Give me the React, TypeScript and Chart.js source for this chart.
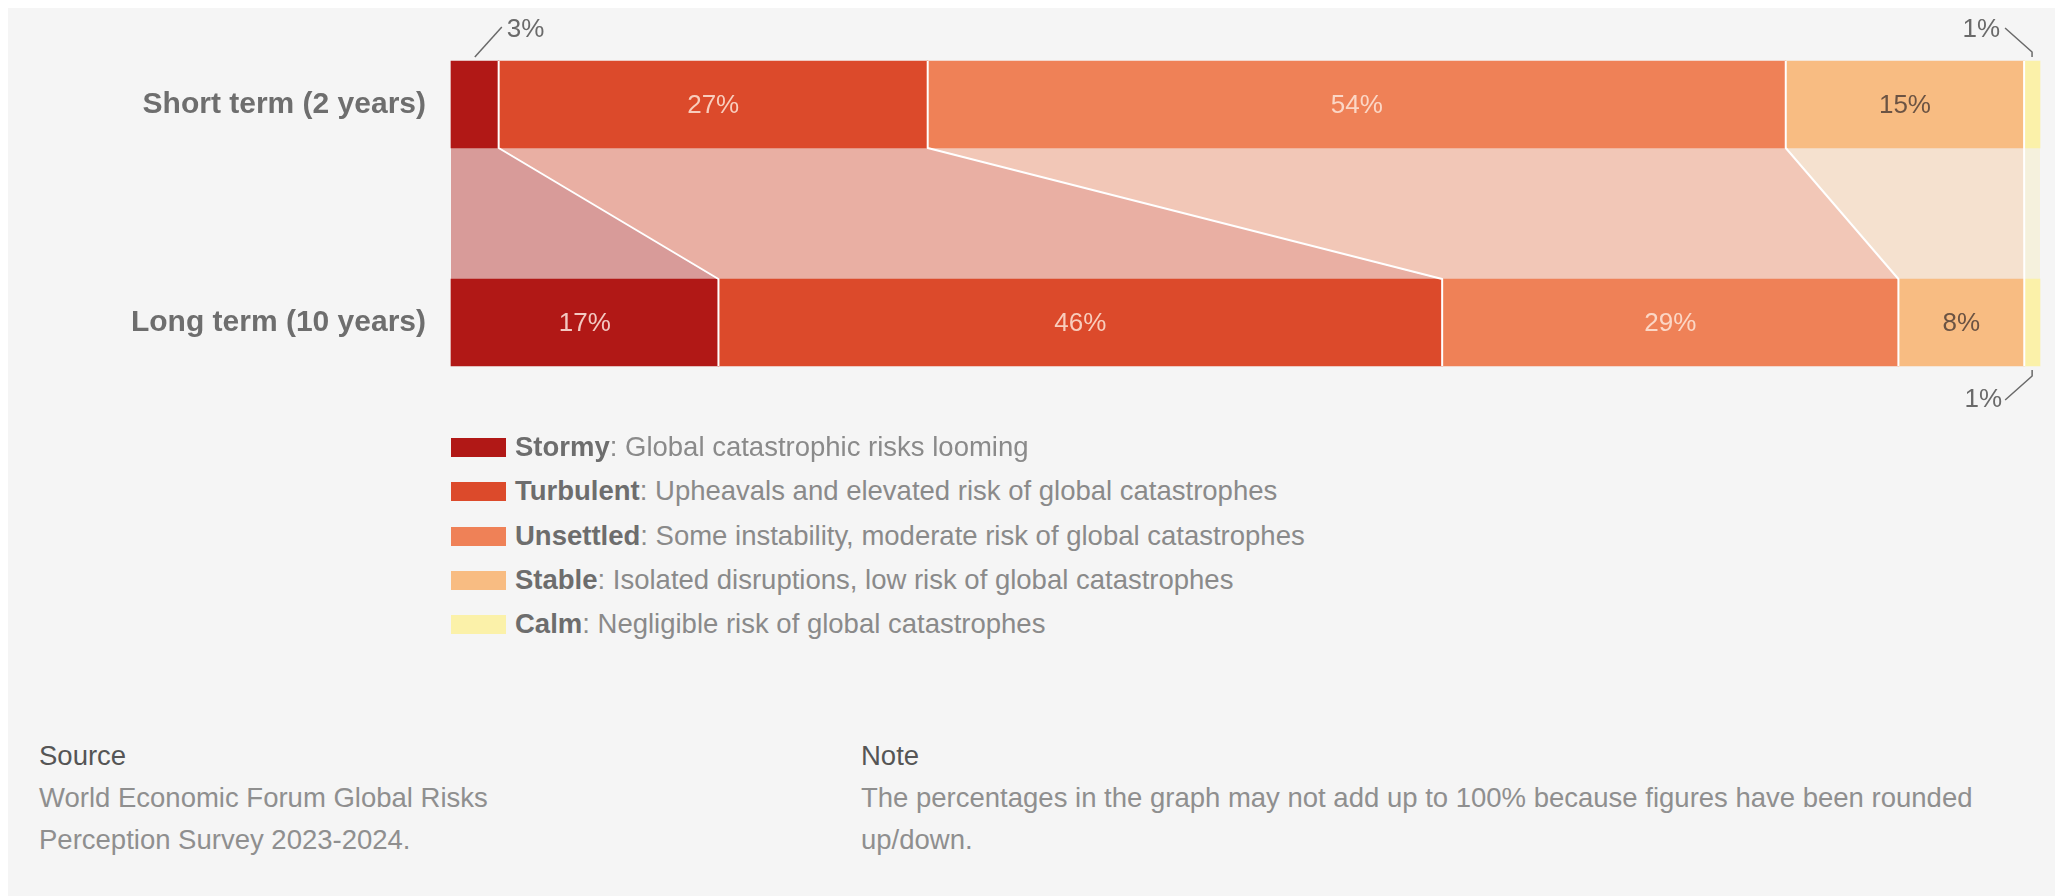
import React, { useEffect, useRef } from "react";
import { Chart, registerables } from "chart.js";

Chart.register(...registerables);

// ---- data ----
const categories = ["Short term (2 years)", "Long term (10 years)"];
const seriesNames = ["Stormy", "Turbulent", "Unsettled", "Stable", "Calm"];
const seriesDescriptions = [
  "Global catastrophic risks looming",
  "Upheavals and elevated risk of global catastrophes",
  "Some instability, moderate risk of global catastrophes",
  "Isolated disruptions, low risk of global catastrophes",
  "Negligible risk of global catastrophes",
];
const stormy = [3, 17];
const turbulent = [27, 46];
const unsettled = [54, 29];
const stable = [15, 8];
const calm = [1, 1];
const seriesValues = [stormy, turbulent, unsettled, stable, calm];

// ---- styles ----
const barColors = ["#b11816", "#dc4a2b", "#ef8157", "#f8bc82", "#fbf1a9"];
const flowColors = ["#d89b99", "#e9afa3", "#f2c7b7", "#f5e1cf", "#f5f1dd"];
const labelColors = ["#f3c9c2", "#f8cdbd", "#fbd7c6", "#6b5343", "#6b5343"];
const FONT = '"Liberation Sans", Arial, Helvetica, sans-serif';

// small values shown outside the bar with a leader line
const callouts = [
  { series: 0, cat: 0, side: "top", dir: 1 },
  { series: 4, cat: 0, side: "top", dir: -1 },
  { series: 4, cat: 1, side: "bottom", dir: -1 },
];

const rowTotals = categories.map((_, j) =>
  seriesValues.reduce((s, arr) => s + arr[j], 0)
);

const flowPlugin = {
  id: "flows",
  beforeDatasetsDraw(chart: any) {
    const ctx = chart.ctx;
    ctx.save();
    chart.data.datasets.forEach((_: any, di: number) => {
      const meta = chart.getDatasetMeta(di);
      const a = meta.data[0] as any;
      const b = meta.data[1] as any;
      const yA = a.y + a.height / 2;
      const yB = b.y - b.height / 2;
      ctx.fillStyle = flowColors[di];
      ctx.beginPath();
      ctx.moveTo(a.base, yA - 0.5);
      ctx.lineTo(a.x, yA - 0.5);
      ctx.lineTo(b.x, yB + 0.5);
      ctx.lineTo(b.base, yB + 0.5);
      ctx.closePath();
      ctx.fill();
    });
    ctx.restore();
  },
  afterDatasetsDraw(chart: any) {
    const ctx = chart.ctx;
    ctx.save();
    const n = chart.data.datasets.length;
    // white separators
    ctx.strokeStyle = "#ffffff";
    ctx.lineWidth = 2;
    ctx.lineJoin = "round";
    for (let di = 0; di < n - 1; di++) {
      const meta = chart.getDatasetMeta(di);
      const a = meta.data[0] as any;
      const b = meta.data[1] as any;
      ctx.beginPath();
      ctx.moveTo(a.x, a.y - a.height / 2);
      ctx.lineTo(a.x, a.y + a.height / 2);
      ctx.lineTo(b.x, b.y - b.height / 2);
      ctx.lineTo(b.x, b.y + b.height / 2);
      ctx.stroke();
    }
    // value labels inside
    ctx.textAlign = "center";
    ctx.textBaseline = "middle";
    ctx.font = `26px ${FONT}`;
    for (let di = 0; di < n; di++) {
      const meta = chart.getDatasetMeta(di);
      meta.data.forEach((el: any, j: number) => {
        const v = seriesValues[di][j];
        if (callouts.some((c) => c.series === di && c.cat === j)) return;
        ctx.fillStyle = labelColors[di];
        ctx.fillText(`${v}%`, (el.base + el.x) / 2, el.y + 1);
      });
    }
    // callouts
    ctx.strokeStyle = "#6a6a6a";
    ctx.lineWidth = 1.5;
    ctx.fillStyle = "#6a6a6a";
    callouts.forEach((c) => {
      const el = chart.getDatasetMeta(c.series).data[c.cat] as any;
      const cx = (el.base + el.x) / 2;
      const v = seriesValues[c.series][c.cat];
      ctx.beginPath();
      if (c.side === "top") {
        const top = el.y - el.height / 2;
        if (c.dir > 0) {
          ctx.moveTo(cx, top - 4);
          ctx.lineTo(cx + 27, top - 34);
        } else {
          ctx.moveTo(cx, top - 4);
          ctx.lineTo(cx, top - 9);
          ctx.lineTo(cx - 27, top - 33);
        }
        ctx.stroke();
        ctx.textAlign = c.dir > 0 ? "left" : "right";
        ctx.fillText(`${v}%`, cx + c.dir * 32, top - 31);
      } else {
        const bottom = el.y + el.height / 2;
        ctx.moveTo(cx, bottom + 4);
        ctx.lineTo(cx, bottom + 10);
        ctx.lineTo(cx - 27, bottom + 34);
        ctx.stroke();
        ctx.textAlign = "right";
        ctx.fillText(`${v}%`, cx - 30, bottom + 34);
      }
    });
    ctx.restore();
  },
};

function ChartCanvas() {
  const ref = useRef<HTMLCanvasElement>(null);
  useEffect(() => {
    if (!ref.current) return;
    const chart = new Chart(ref.current, {
      type: "bar",
      data: {
        labels: categories,
        datasets: seriesValues.map((arr, di) => ({
          label: seriesNames[di],
          data: arr.map((v, j) => (v / rowTotals[j]) * 100),
          backgroundColor: barColors[di],
          borderWidth: 0,
          barThickness: 87,
          clip: false as any,
        })),
      },
      options: {
        indexAxis: "y",
        animation: false,
        responsive: true,
        maintainAspectRatio: false,
        layout: { padding: { top: 96.5, bottom: 105.5, left: 0, right: 15 } },
        plugins: {
          legend: { display: false },
          tooltip: { enabled: false },
        },
        scales: {
          x: {
            stacked: true,
            min: 0,
            max: 100,
            display: false,
          },
          y: {
            stacked: true,
            offset: false,
            grid: { display: false, drawTicks: false },
            border: { display: false },
            ticks: {
              padding: 25,
              color: "#6e6e6e",
              font: { family: FONT, size: 30, weight: "bold" },
            },
            afterFit: (scale: any) => {
              scale.width = 443;
            },
          },
        },
      },
      plugins: [flowPlugin],
    });
    return () => chart.destroy();
  }, []);
  return <canvas ref={ref} />;
}

export default function App() {
  useEffect(() => {
    document.body.style.margin = "0";
  }, []);
  const legendTop = [439, 483, 528, 572, 616];
  return (
    <div
      style={{
        position: "fixed",
        left: 8,
        top: 8,
        width: 2047,
        height: 888,
        background: "#f5f5f5",
        fontFamily: FONT,
        overflow: "hidden",
      }}
    >
      <div style={{ position: "absolute", left: 0, top: 0, width: 2047, height: 420 }}>
        <ChartCanvas />
      </div>
      {seriesNames.map((name, i) => (
        <div
          key={name}
          style={{
            position: "absolute",
            left: 443,
            top: legendTop[i] - 20,
            height: 40,
            display: "flex",
            alignItems: "center",
            whiteSpace: "nowrap",
          }}
        >
          <span
            style={{
              display: "inline-block",
              width: 55,
              height: 19,
              background: barColors[i],
              marginRight: 9,
            }}
          />
          <span style={{ fontSize: 27.5, color: "#8a8a8a" }}>
            <b style={{ color: "#6d6d6d" }}>{name}</b>: {seriesDescriptions[i]}
          </span>
        </div>
      ))}
      <div style={{ position: "absolute", left: 31, top: 727, fontSize: 27.5, lineHeight: "42px", color: "#8f8f8f" }}>
        <div style={{ color: "#555555" }}>Source</div>
        <div>World Economic Forum Global Risks</div>
        <div>Perception Survey 2023-2024.</div>
      </div>
      <div style={{ position: "absolute", left: 853, top: 727, fontSize: 27.5, lineHeight: "42px", color: "#8f8f8f", width: 1190, whiteSpace: "nowrap" }}>
        <div style={{ color: "#555555" }}>Note</div>
        <div>The percentages in the graph may not add up to 100% because figures have been rounded</div>
        <div>up/down.</div>
      </div>
    </div>
  );
}
